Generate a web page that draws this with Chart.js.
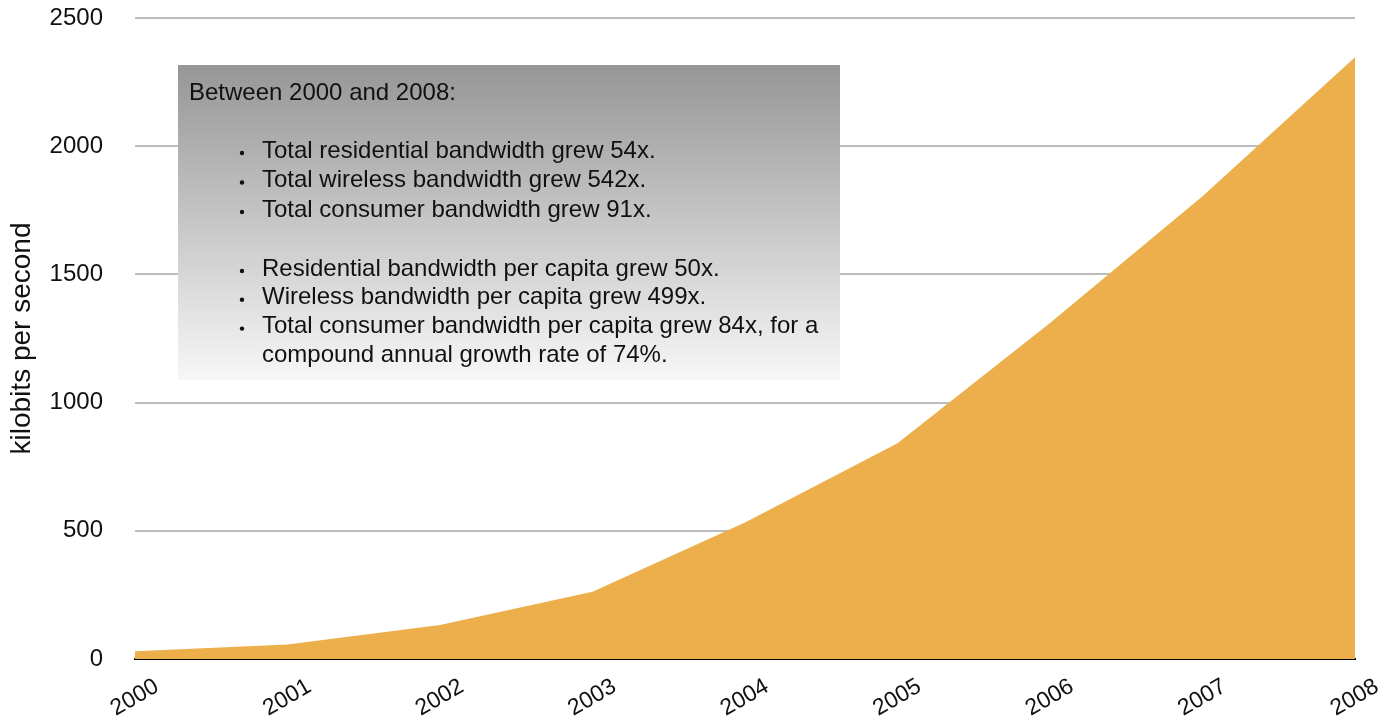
<!DOCTYPE html>
<html>
<head>
<meta charset="utf-8">
<title>Consumer bandwidth per capita</title>
<script src="https://cdn.jsdelivr.net/npm/chart.js@4.4.1/dist/chart.umd.min.js"></script>
<style>
  html, body { margin: 0; padding: 0; background: #fff; }
  #bwChart { display: block; }
</style>
</head>
<body>
<canvas id="bwChart" width="1393" height="721"></canvas>
<script>
// years on the x axis and kbps per capita for each one
var years = ['2000', '2001', '2002', '2003', '2004', '2005', '2006', '2007', '2008'];
var kbps = [30, 57, 133, 262, 532, 841, 1310, 1805, 2347];

// y axis range / step
var yMin = 0;
var yMax = 2500;
var yStep = 500;

// text for the summary box
var noteTitle = 'Between 2000 and 2008:';
var noteTotals = [
  'Total residential bandwidth grew 54x.',
  'Total wireless bandwidth grew 542x.',
  'Total consumer bandwidth grew 91x.'
];
var notePerCapita = [
  'Residential bandwidth per capita grew 50x.',
  'Wireless bandwidth per capita grew 499x.',
  'Total consumer bandwidth per capita grew 84x, for a',
  'compound annual growth rate of 74%.'
];

var fontFamily = '"Liberation Sans", Helvetica, Arial, sans-serif';

// grey gradient box with the bullet list, drawn on top of the grid
var noteBox = {
  id: 'noteBox',
  afterDraw: function(chart) {
    var ctx = chart.ctx;
    var bx = 178, by = 65, bw = 662, bh = 315;
    ctx.save();
    var grad = ctx.createLinearGradient(0, by, 0, by + bh);
    grad.addColorStop(0, '#969696');
    grad.addColorStop(1, '#f7f7f7');
    ctx.fillStyle = grad;
    ctx.fillRect(bx, by, bw, bh);

    ctx.fillStyle = '#111';
    ctx.font = '24px ' + fontFamily;
    ctx.textBaseline = 'middle';
    ctx.textAlign = 'left';
    ctx.fillText(noteTitle, 189, 93);

    var lines = [];
    noteTotals.forEach(function(t, i) { lines.push({ t: t, y: 151 + i * 29.5, dot: true }); });
    notePerCapita.forEach(function(t, i) {
      lines.push({ t: t, y: 269 + i * 28.8, dot: i < 3 });
    });
    lines.forEach(function(l) {
      if (l.dot) {
        ctx.beginPath();
        ctx.arc(242, l.y + 2, 2.2, 0, Math.PI * 2);
        ctx.fill();
      }
      ctx.fillText(l.t, 262, l.y);
    });
    ctx.restore();
  }
};

var ctx = document.getElementById('bwChart');
var bwChart = new Chart(ctx, {
  type: 'line',
  data: {
    labels: years,
    datasets: [{
      label: 'kbps',
      data: kbps,
      fill: 'origin',
      backgroundColor: '#ecaf4c',
      borderColor: '#ecaf4c',
      borderWidth: 0,
      pointRadius: 0,
      tension: 0
    }]
  },
  options: {
    responsive: false,
    animation: false,
    devicePixelRatio: 1,
    layout: { padding: { top: 18, right: 38, left: 0, bottom: 0 } },
    plugins: {
      legend: { display: false },
      tooltip: { enabled: false }
    },
    scales: {
      x: {
        offset: false,
        grid: { display: false, drawTicks: false },
        border: { display: true, color: '#000', width: 2 },
        ticks: {
          color: '#111',
          font: { family: fontFamily, size: 23 },
          minRotation: 30,
          maxRotation: 30,
          autoSkip: false,
          padding: 14,
          labelOffset: 22
        },
        afterFit: function(scale) { scale.height = 62; }
      },
      y: {
        min: yMin,
        max: yMax,
        // invisible tick marks give the gap between labels and grid
        grid: { color: '#bcbcbc', lineWidth: 2, drawTicks: true, tickLength: 30, tickColor: 'rgba(0,0,0,0)' },
        border: { display: false },
        ticks: {
          stepSize: yStep,
          color: '#111',
          font: { family: fontFamily, size: 24 },
          padding: 2,
          callback: function(v) { return String(v); }
        },
        title: {
          display: true,
          text: 'kilobits per second',
          color: '#111',
          font: { family: fontFamily, size: 28 },
          padding: { top: 5, bottom: 0 }
        },
        afterFit: function(scale) { scale.width = 135; }
      }
    }
  },
  plugins: [noteBox]
});
</script>
</body>
</html>
